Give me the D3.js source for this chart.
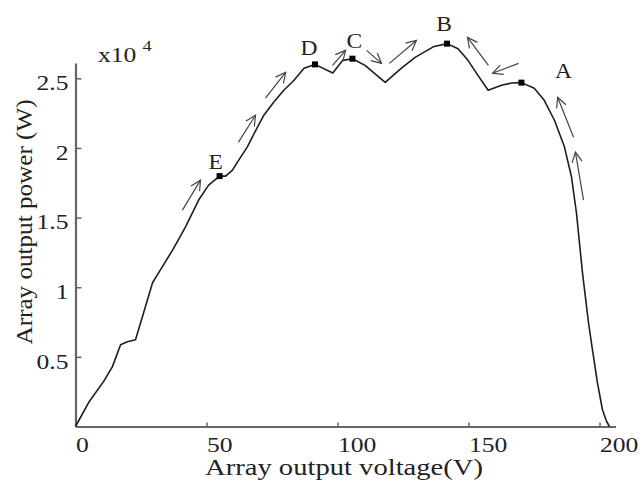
<!DOCTYPE html>
<html>
<head>
<meta charset="utf-8">
<script src="https://cdn.jsdelivr.net/npm/d3@7/dist/d3.min.js"></script>
<style>
  html, body { margin: 0; padding: 0; background: #fff; }
  svg { display: block; }
  text { font-family: "Liberation Serif", "Times New Roman", serif; fill: #222; }
</style>
</head>
<body>
<svg id="chart" width="644" height="482"></svg>
<script>
// P-V curve of the PV array (power in units of 10^4 W)
const voltage = [0, 5.0, 10.7, 14.1, 17.2, 19.8, 22.9, 26.0, 29.4, 31.7, 37.1, 42.0, 47.0, 50.8,
  55.0, 57.3, 59.9, 62.3, 65.6, 68.8, 71.9, 75.7, 79.5, 83.4, 87.2, 91.4, 98.2, 102.0, 105.7,
  110.5, 118.2, 124.3, 129.6, 136.9, 141.8, 146.0, 149.8, 153.6, 157.5, 162.6, 166.4, 170.2,
  175.1, 178.9, 182.8, 186.6, 189.3, 191.2, 193.5, 195.8, 197.3, 199.2, 201.1, 202.7, 203.8];
const power = [0, 0.172, 0.322, 0.430, 0.587, 0.609, 0.623, 0.817, 1.032, 1.103, 1.268, 1.433, 1.626, 1.733,
  1.798, 1.798, 1.841, 1.913, 2.008, 2.127, 2.235, 2.330, 2.414, 2.486, 2.572, 2.600, 2.538, 2.629, 2.641,
  2.593, 2.471, 2.572, 2.650, 2.729, 2.749, 2.713, 2.629, 2.521, 2.414, 2.450, 2.466, 2.469,
  2.428, 2.342, 2.199, 2.008, 1.793, 1.533, 1.103, 0.745, 0.552, 0.315, 0.122, 0.036, 0];

// Operating points visited by the tracker
const pointNames = ["E", "D", "C", "B", "A"];
const pointV = [55.0, 91.4, 105.7, 141.8, 170.2];
const pointP = [1.798, 2.600, 2.641, 2.749, 2.469];

// Search-direction arrows: start and end (V, P)
const arrowV0 = [40.8, 62.2, 72.5, 98.1, 111.1, 119.8, 157.6, 169.1, 190.1, 193.9];
const arrowP0 = [1.554, 2.042, 2.357, 2.593, 2.701, 2.607, 2.593, 2.607, 2.077, 1.626];
const arrowV1 = [47.7, 68.7, 80.2, 103.1, 116.8, 130.1, 149.6, 159.2, 184.0, 190.8];
const arrowP1 = [1.769, 2.235, 2.543, 2.701, 2.607, 2.772, 2.794, 2.536, 2.364, 1.970];

const xTicks = [0, 50, 100, 150, 200];
const yTicks = [0.5, 1, 1.5, 2, 2.5];

const svg = d3.select("#chart");
const SX = 1.22; // horizontal stretch of lettering

const x = d3.scaleLinear().domain([0, 206.1]).range([75.5, 615.5]);
const y = d3.scaleLinear().domain([0, 2.61]).range([426.5, 63]);

// arrow head
svg.append("defs").append("marker")
  .attr("id", "head")
  .attr("markerUnits", "userSpaceOnUse")
  .attr("viewBox", "-12 -7 14 14")
  .attr("refX", 0).attr("refY", 0)
  .attr("markerWidth", 14).attr("markerHeight", 14)
  .attr("orient", "auto")
  .append("path")
  .attr("d", "M-10,-5 L0,0 L-10,5")
  .attr("fill", "none")
  .attr("stroke", "#444")
  .attr("stroke-width", 1.2);

// x axis
const gx = svg.append("g")
  .attr("transform", `translate(0,${y(0)})`)
  .call(d3.axisBottom(x).tickValues(xTicks).tickSizeInner(-4).tickSizeOuter(0).tickFormat(d3.format("d")));
gx.select(".domain").attr("stroke", "#666").attr("stroke-width", 2.2);
gx.selectAll(".tick line").attr("stroke", "#666").attr("stroke-width", 1.5);
gx.selectAll(".tick text")
  .attr("text-anchor", "start")
  .attr("x", 0).attr("y", 11).attr("dy", "0.71em")
  .attr("transform", `scale(${SX},1)`)
  .style("font-size", "21px").style("font-family", "Liberation Serif, serif").attr("fill", "#222");

// y axis
const gy = svg.append("g")
  .attr("transform", `translate(${x(0)},0)`)
  .call(d3.axisLeft(y).tickValues(yTicks).tickSizeInner(-6).tickSizeOuter(0).tickFormat(d => String(d)));
gy.select(".domain").attr("stroke", "#666").attr("stroke-width", 2.2);
gy.selectAll(".tick line").attr("stroke", "#666").attr("stroke-width", 1.5);
gy.selectAll(".tick text")
  .attr("text-anchor", "end")
  .attr("x", -7 / SX).attr("y", 4.5).attr("dy", "0.32em")
  .attr("transform", `scale(${SX},1)`)
  .style("font-size", "21px").style("font-family", "Liberation Serif, serif").attr("fill", "#222");

// multiplier
const mult = svg.append("text")
  .attr("transform", `translate(98,62) scale(${SX},1)`)
  .style("font-size", "21px");
mult.append("tspan").text("x10");
mult.append("tspan").attr("dx", 5).attr("dy", -11).style("font-size", "15px").text("4");

// axis titles
svg.append("text")
  .attr("x", 344).attr("y", 475)
  .attr("text-anchor", "middle")
  .attr("textLength", 278).attr("lengthAdjust", "spacingAndGlyphs")
  .style("font-size", "23px")
  .text("Array output voltage(V)");

svg.append("text")
  .attr("transform", "translate(32,222) rotate(-90)")
  .attr("text-anchor", "middle")
  .attr("textLength", 245).attr("lengthAdjust", "spacingAndGlyphs")
  .style("font-size", "23px")
  .text("Array output power (W)");

// P-V curve
const line = d3.line().x(d => x(d[0])).y(d => y(d[1]));
svg.append("path")
  .datum(d3.zip(voltage, power))
  .attr("d", line)
  .attr("fill", "none")
  .attr("stroke", "#1e1e1e")
  .attr("stroke-width", 1.6)
  .attr("stroke-linejoin", "round");

// arrows
svg.append("g").selectAll("line")
  .data(d3.range(arrowV0.length))
  .join("line")
  .attr("x1", i => x(arrowV0[i])).attr("y1", i => y(arrowP0[i]))
  .attr("x2", i => x(arrowV1[i])).attr("y2", i => y(arrowP1[i]))
  .attr("stroke", "#444")
  .attr("stroke-width", 1.2)
  .attr("marker-end", "url(#head)");

// points and their letters
const labelNudge = { E: [-4, -7], D: [-6, -9], C: [2, -11], B: [-3, -13], A: [42, -5] };
const pts = svg.append("g").selectAll("g")
  .data(d3.range(pointNames.length))
  .join("g")
  .attr("transform", i => `translate(${x(pointV[i])},${y(pointP[i])})`);
pts.append("rect")
  .attr("x", -3).attr("y", -3).attr("width", 6).attr("height", 6)
  .attr("fill", "#000");
pts.append("text")
  .attr("transform", i => `translate(${labelNudge[pointNames[i]][0]},${labelNudge[pointNames[i]][1]}) scale(1.12,1)`)
  .attr("text-anchor", "middle")
  .style("font-size", "21px")
  .text(i => pointNames[i]);
</script>
</body>
</html>
